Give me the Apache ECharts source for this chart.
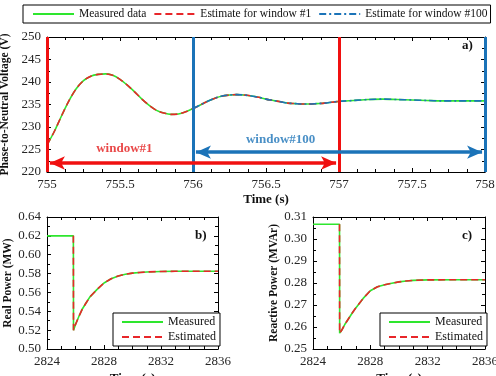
<!DOCTYPE html>
<html><head><meta charset="utf-8">
<script src="https://cdn.jsdelivr.net/npm/echarts@6/dist/echarts.min.js"></script>
<style>html,body{margin:0;padding:0;background:#fff}#c{width:496px;height:376px}</style>
</head><body><div id="c"></div>
<script>
// ---- panel a) voltage ----
const timeA = [755.00,755.05,755.10,755.15,755.20,755.25,755.30,755.35,755.40,755.45,755.50,755.55,755.60,755.65,755.70,755.75,755.80,755.85,755.90,755.95,756.00,756.05,756.10,756.15,756.20,756.25,756.30,756.35,756.40,756.45,756.50,756.55,756.60,756.65,756.70,756.75,756.80,756.85,756.90,756.95,757.00,757.10,757.20,757.30,757.40,757.50,757.60,757.70,757.80,757.90,758.00];
const voltMeasured = [226.0,229.0,232.5,235.8,238.5,240.3,241.3,241.7,241.8,241.5,240.6,239.3,237.8,236.2,234.8,233.7,233.1,232.8,232.9,233.4,234.1,234.9,235.7,236.4,236.9,237.1,237.2,237.1,236.9,236.6,236.2,235.9,235.6,235.3,235.2,235.1,235.1,235.2,235.3,235.5,235.7,235.9,236.1,236.2,236.1,236.0,235.9,235.8,235.8,235.8,235.8];
const window1 = [755, 757];
const window100 = [756, 758];
// ---- panel b) real power ----
const timeB = [2824,2825.85,2825.86,2826.0,2826.25,2826.5,2826.75,2827.0,2827.5,2828.0,2828.5,2829.0,2829.5,2830.0,2830.5,2831,2832,2833,2834,2836];
const powerMeasured = [0.62,0.62,0.520,0.526,0.535,0.543,0.549,0.555,0.563,0.570,0.5745,0.5775,0.5793,0.5805,0.5812,0.5817,0.5822,0.5824,0.5825,0.5825];
// ---- panel c) reactive power ----
const timeC = [2824,2825.85,2825.86,2826.0,2826.25,2826.5,2826.75,2827.0,2827.5,2828.0,2828.5,2829.0,2829.5,2830.0,2830.5,2831,2832,2834,2836];
const reactiveMeasured = [0.3067,0.3067,0.2572,0.2585,0.2615,0.2640,0.2665,0.2688,0.2730,0.2765,0.2783,0.2792,0.2799,0.2805,0.2809,0.2812,0.2814,0.2815,0.2815];
const estStartIndex = 1; // estimates begin at the step

const F = "'Liberation Serif', 'Times New Roman', serif";
const GREEN = '#2ee62e', RED = '#e8262a', BLUE = '#1b73b8';
const zip = (t, v) => t.map((x, i) => [x, v[i]]);

const measA = zip(timeA, voltMeasured);
const est1 = measA.filter(p => p[0] >= window1[0] && p[0] <= window1[1]);
const est100 = measA.filter(p => p[0] >= window100[0] && p[0] <= window100[1]);
const measB = zip(timeB, powerMeasured), estB = measB.slice(estStartIndex);
const measC = zip(timeC, reactiveMeasured), estC = measC.slice(estStartIndex);

function ax(gi, min, max, interval, split, pos, showLabel, name, nameGap, fmt, nameSize) {
  return {
    type: 'value', gridIndex: gi, min, max, interval, position: pos,
    axisLine: { show: true, onZero: false, lineStyle: { color: '#000', width: 1 } },
    axisTick: { show: true, inside: true, length: 4, lineStyle: { color: '#000' } },
    minorTick: { show: true, splitNumber: split, length: 3, lineStyle: { color: '#000' } },
    splitLine: { show: false },
    axisLabel: { show: showLabel, color: '#262626', fontFamily: F, fontSize: 13, margin: 6, formatter: fmt || (v => String(v)) },
    name: name || '', nameLocation: 'middle', nameGap: nameGap || 0,
    nameTextStyle: { color: '#111', fontFamily: F, fontSize: nameSize || 13, fontWeight: 'bold' }
  };
}

const lineS = (name, data, color, type, xi, yi, z) => ({
  name, type: 'line', data, xAxisIndex: xi, yAxisIndex: yi, showSymbol: false, symbol: 'none',
  smooth: 0.3, z, lineStyle: { color, width: 1.6, type }, itemStyle: { color }, animation: false
});

const DASH = [7, 4], DASHDOT = [7, 3, 2, 3];
const f2 = v => v.toFixed(2);
const legendBase = {
  itemWidth: 41, itemHeight: 12, borderColor: '#000', borderWidth: 1, backgroundColor: '#fff',
  itemStyle: { opacity: 0 }, textStyle: { fontFamily: F, fontSize: 12, color: '#111' }
};

const option = {
  animation: false,
  grid: [
    { left: 47, top: 37, width: 438, height: 135, outerBoundsMode: 'none', containLabel: false },
    { left: 47, top: 217, width: 171, height: 132, outerBoundsMode: 'none', containLabel: false },
    { left: 313, top: 217, width: 172, height: 132, outerBoundsMode: 'none', containLabel: false }
  ],
  xAxis: [
    ax(0, 755, 758, 0.5, 4, 'bottom', true, 'Time (s)', 21),
    ax(0, 755, 758, 0.5, 4, 'top', false),
    ax(1, 2824, 2836, 4, 4, 'bottom', true, 'Time (s)', 23),
    ax(1, 2824, 2836, 4, 4, 'top', false),
    ax(2, 2824, 2836, 4, 4, 'bottom', true, 'Time (s)', 23),
    ax(2, 2824, 2836, 4, 4, 'top', false)
  ],
  yAxis: [
    ax(0, 220, 250, 5, 2, 'left', true, 'Phase-to-Neutral Voltage (V)', 28, null, 11.5),
    ax(0, 220, 250, 5, 2, 'right', false),
    ax(1, 0.50, 0.64, 0.02, 2, 'left', true, 'Real Power (MW)', 28, f2, 11.5),
    ax(1, 0.50, 0.64, 0.02, 2, 'right', false),
    ax(2, 0.25, 0.31, 0.01, 2, 'left', true, 'Reactive Power (MVAr)', 28, f2, 11.5),
    ax(2, 0.25, 0.31, 0.01, 2, 'right', false)
  ],
  legend: [
    Object.assign({}, legendBase, { data: ['Measured data', 'Estimate for window #1', 'Estimate for window #100'],
      left: 23, top: 5, orient: 'horizontal', itemGap: 7, padding: [3, 3, 3, 9],
      textStyle: { fontFamily: F, fontSize: 11.5, color: '#111' } }),
    Object.assign({}, legendBase, { data: ['Measured', 'Estimated'], left: 113, top: 313, orient: 'vertical', itemGap: 3, padding: [3, 4, 3, 8] }),
    Object.assign({}, legendBase, { data: ['Measured', 'Estimated'], left: 380, top: 313, orient: 'vertical', itemGap: 3, padding: [3, 4, 3, 8] })
  ],
  series: [
    lineS('Measured data', measA, GREEN, 'solid', 0, 0, 2),
    Object.assign(lineS('Estimate for window #1', est1, RED, DASH, 0, 0, 3), {
      markLine: { silent: true, symbol: 'none', animation: false, label: { show: false },
        lineStyle: { color: '#f01010', width: 3, type: 'solid' },
        data: window1.map(x => ({ xAxis: x })) }
    }),
    Object.assign(lineS('Estimate for window #100', est100, BLUE, DASHDOT, 0, 0, 4), {
      markLine: { silent: true, symbol: 'none', animation: false, label: { show: false },
        lineStyle: { color: BLUE, width: 3, type: 'solid' },
        data: window100.map(x => ({ xAxis: x })) }
    }),
    { name: '_arrowRed', type: 'line', data: [], xAxisIndex: 0, yAxisIndex: 0, z: 5,
      markLine: { silent: true, symbol: ['arrow', 'arrow'], symbolSize: [10, 15], animation: false,
        label: { show: false }, lineStyle: { color: '#f01010', width: 3.5, type: 'solid' },
        data: [[{ coord: [window1[0] + 0.02, 222] }, { coord: [window1[1] - 0.02, 222] }]] } },
    { name: '_arrowBlue', type: 'line', data: [], xAxisIndex: 0, yAxisIndex: 0, z: 5,
      markLine: { silent: true, symbol: ['arrow', 'arrow'], symbolSize: [10, 15], animation: false,
        label: { show: false }, lineStyle: { color: BLUE, width: 3.5, type: 'solid' },
        data: [[{ coord: [window100[0] + 0.02, 224.4] }, { coord: [window100[1] - 0.02, 224.4] }]] } },
    { name: '_lblRed', type: 'scatter', data: [[755.53, 225.1]], xAxisIndex: 0, yAxisIndex: 0, symbolSize: 1,
      itemStyle: { color: 'rgba(0,0,0,0)' }, z: 6,
      label: { show: true, position: 'inside', formatter: 'window#1', color: '#e41a1a', fontFamily: F, fontSize: 13, fontWeight: 'bold' } },
    { name: '_lblBlue', type: 'scatter', data: [[756.6, 227.1]], xAxisIndex: 0, yAxisIndex: 0, symbolSize: 1,
      itemStyle: { color: 'rgba(0,0,0,0)' }, z: 6,
      label: { show: true, position: 'inside', formatter: 'window#100', color: BLUE, fontFamily: F, fontSize: 13, fontWeight: 'bold' } },
    lineS('Measured', measB, GREEN, 'solid', 2, 2, 2),
    lineS('Estimated', estB, RED, DASH, 2, 2, 3),
    lineS('Measured', measC, GREEN, 'solid', 4, 4, 2),
    lineS('Estimated', estC, RED, DASH, 4, 4, 3)
  ],
  graphic: [
    { type: 'text', left: 462, top: 39, style: { text: 'a)', font: "bold 13px 'Liberation Serif', serif", fill: '#111' } },
    { type: 'text', left: 195, top: 229, style: { text: 'b)', font: "bold 13px 'Liberation Serif', serif", fill: '#111' } },
    { type: 'text', left: 462, top: 229, style: { text: 'c)', font: "bold 13px 'Liberation Serif', serif", fill: '#111' } }
  ]
};
option.series.forEach(s => { if (s.xAxisIndex >= 2) s.smooth = false; });
const chart = echarts.init(document.getElementById('c'), null, { renderer: 'canvas' });
chart.setOption(option);
</script></body></html>
